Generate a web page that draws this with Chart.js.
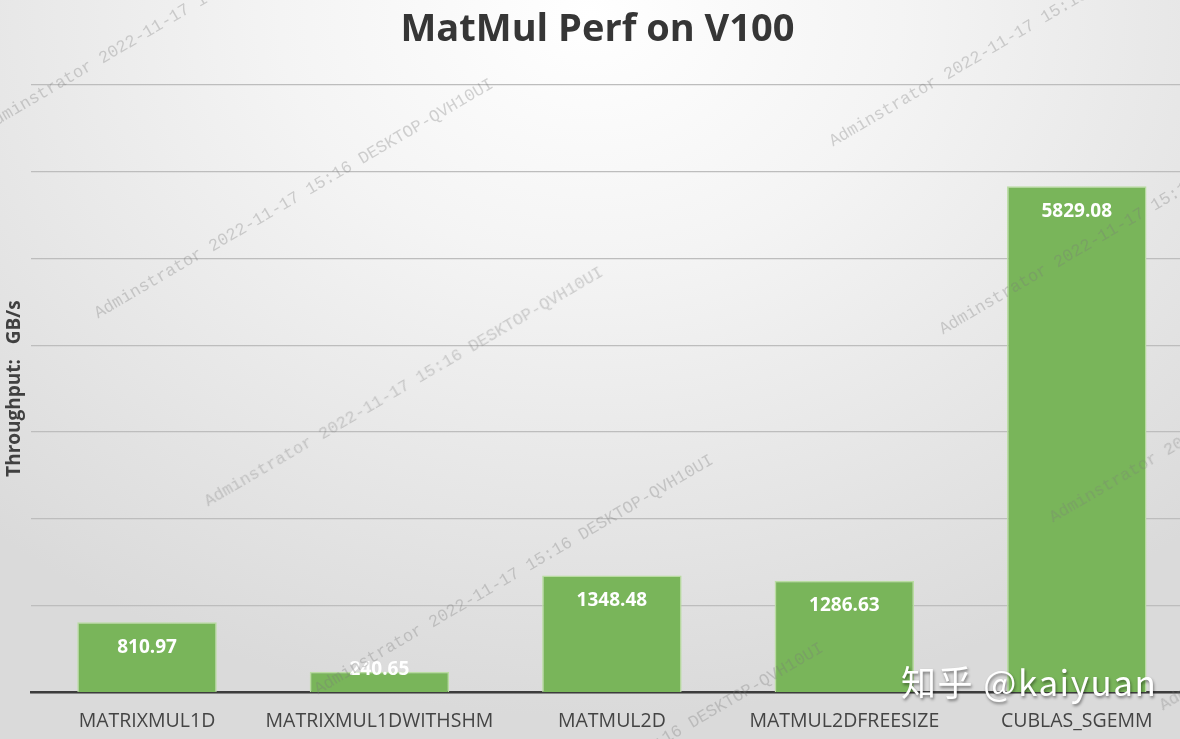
<!DOCTYPE html>
<html>
<head>
<meta charset="utf-8">
<script src="https://cdn.jsdelivr.net/npm/chart.js@4.4.1/dist/chart.umd.min.js"></script>
<style>
  html, body { margin: 0; padding: 0; width: 1180px; height: 739px; overflow: hidden; }
  body {
    background: radial-gradient(ellipse 75% 95% at 50% 2%, #ffffff 0%, #f4f4f4 35%, #e6e6e6 70%, #dadada 100%);
    position: relative;
  }
  #wrap { position: absolute; left: 0; top: 0; width: 1194px; height: 760px; }
  .wm {
    position: absolute; white-space: nowrap; line-height: 1;
    font-family: 'Liberation Mono', monospace; font-size: 17px;
    color: rgba(120,120,120,0.32);
    transform-origin: 0 100%; transform: rotate(-30.3deg);
    pointer-events: none;
  }
  #zhihu {
    position: absolute; left: 901px; top: 663px; white-space: nowrap; line-height: 1;
    font-family: 'Noto Sans CJK SC', sans-serif; font-size: 35px; letter-spacing: 1.5px; color: #ffffff;
    text-shadow: 1px 2px 3px rgba(0,0,0,0.45);
  }
</style>
</head>
<body>
<div id="wrap"><canvas id="c" width="1194" height="760"></canvas></div>
<script>
// ---- data ----
const categories = ['MATRIXMUL1D', 'MATRIXMUL1DWITHSHM', 'MATMUL2D', 'MATMUL2DFREESIZE', 'CUBLAS_SGEMM'];
const throughput = [810.97, 240.65, 1348.48, 1286.63, 5829.08];
const valueLabels = ['810.97', '240.65', '1348.48', '1286.63', '5829.08'];
const yMin = 0;
const yMax = 7000;
const yStep = 1000;
const chartTitle = 'MatMul Perf on V100';
const yAxisTitle = 'Throughput:   GB/s';
const watermarkText = 'Adminstrator 2022-11-17 15:16 DESKTOP-QVH10UI';
const signatureText = '知乎 @kaiyuan';

// ---- decoration overlays ----
const wmStarts = [[-10,134],[100,322],[210,510],[320,698],[430,886],[835,150],[945,338],[1055,526],[1165,714]];
wmStarts.forEach(([x, y]) => {
  const s = document.createElement('div');
  s.className = 'wm';
  s.textContent = watermarkText;
  s.style.left = x + 'px';
  s.style.top = (y - 17) + 'px';
  document.body.appendChild(s);
});
const sig = document.createElement('div');
sig.id = 'zhihu';
sig.textContent = signatureText;
document.body.appendChild(sig);

// ---- value labels plugin ----
const valueLabelPlugin = {
  id: 'valueLabels',
  afterDatasetsDraw(chart) {
    const ctx = chart.ctx;
    const meta = chart.getDatasetMeta(0);
    ctx.save();
    ctx.font = 'bold 19px "Open Sans"';
    ctx.fillStyle = '#ffffff';
    ctx.textAlign = 'center';
    ctx.textBaseline = 'middle';
    meta.data.forEach((bar, i) => {
      const y = Math.min(bar.y + 25, bar.base - 22);
      ctx.fillText(valueLabels[i], bar.x, y);
    });
    ctx.restore();
  }
};

new Chart(document.getElementById('c'), {
  type: 'bar',
  data: {
    labels: categories,
    datasets: [{
      data: throughput,
      backgroundColor: '#79b55a',
      borderColor: '#b9dca1',
      borderWidth: 1.5,
      barPercentage: 1.0,
      categoryPercentage: 0.6
    }]
  },
  options: {
    responsive: false,
    animation: false,
    layout: { padding: { left: 2, right: 1, top: 0, bottom: 10 } },
    plugins: {
      legend: { display: false },
      tooltip: { enabled: false },
      title: {
        display: true,
        text: chartTitle,
        color: '#363636',
        font: { family: 'Open Sans', weight: 'bold', size: 38 },
        padding: { top: 7, bottom: 32 }
      }
    },
    scales: {
      x: {
        grid: { display: false, drawTicks: false },
        border: { display: true, color: '#3c3c3c', width: 2.5 },
        ticks: {
          color: '#444444',
          font: { family: 'Open Sans', size: 19.5 },
          padding: 17,
          maxRotation: 0,
          minRotation: 0,
          autoSkip: false
        }
      },
      y: {
        min: yMin,
        max: yMax,
        ticks: { display: false, stepSize: yStep },
        grid: { color: '#bdbdbd', lineWidth: 1.3, drawTicks: false },
        border: { display: false },
        title: {
          display: true,
          text: yAxisTitle,
          color: '#404040',
          font: { family: 'Open Sans', weight: 'bold', size: 19 },
          padding: { top: 1, bottom: 5 }
        }
      }
    }
  },
  plugins: [valueLabelPlugin]
});
</script>
</body>
</html>
